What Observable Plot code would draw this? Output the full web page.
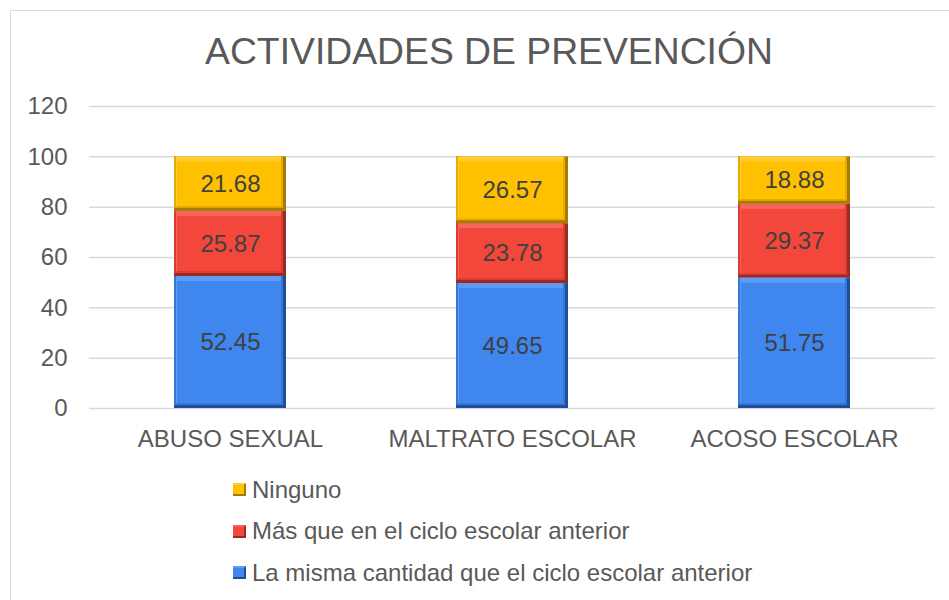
<!DOCTYPE html>
<html>
<head>
<meta charset="utf-8">
<script src="https://cdn.jsdelivr.net/npm/d3@7"></script>
<script src="https://cdn.jsdelivr.net/npm/@observablehq/plot@0.6"></script>
<style>
  html, body { margin: 0; padding: 0; background: #fff; overflow: hidden; }
  body { width: 949px; height: 600px; position: relative; font-family: "Liberation Sans", Arial, sans-serif; color: #595959; }
  #frame { position: absolute; left: 10px; top: 10px; width: 960px; height: 620px; border-left: 1.5px solid #d9d9d9; border-top: 1.5px solid #d9d9d9; box-sizing: border-box; }
  #title { position: absolute; left: 0; top: 33px; width: 949px; padding-left: 29px; box-sizing: border-box; text-align: center; font-size: 37.3px; line-height: 36.5px; color: #595959; white-space: nowrap; }
  #chart { position: absolute; left: 0; top: 90px; }
  #legend { position: absolute; left: 233px; top: 469px; }
  .row { display: flex; align-items: center; height: 41.5px; font-size: 24px; white-space: nowrap; }
  .sw { width: 13px; height: 13px; margin-right: 6px; box-sizing: border-box; }
</style>
</head>
<body>
<div id="frame"></div>
<div id="title">ACTIVIDADES DE PREVENCIÓN</div>
<div id="chart"></div>
<div id="legend"></div>
<script>
const categories = ["ABUSO SEXUAL", "MALTRATO ESCOLAR", "ACOSO ESCOLAR"];
const series = [
  "La misma cantidad que el ciclo escolar anterior",
  "Más que en el ciclo escolar anterior",
  "Ninguno"
];
const misma = [52.45, 49.65, 51.75];
const mas = [25.87, 23.78, 29.37];
const ninguno = [21.68, 26.57, 18.88];
const yTicks = [0, 20, 40, 60, 80, 100, 120];

const mainColors = ["#3f86ef", "#f2473a", "#ffc000"];
const lightColors = ["#5d9bf4", "#f5665a", "#ffcd33"];
const darkColors = ["#1d4f9c", "#9c2a22", "#a67c00"];
const edgeColors = ["#3576d6", "#d93d31", "#e6ad00"];

const valuesBySeries = [misma, mas, ninguno];
const data = [];
series.forEach((s, si) => {
  categories.forEach((c, ci) => {
    data.push({cat: c, series: s, si, value: valuesBySeries[si][ci]});
  });
});

const stackOpts = (extra) => Plot.stackY({x: "cat", y: "value", z: "series", order: series, ...extra});

const chart = Plot.plot({
  width: 949,
  height: 370,
  marginTop: 16,
  marginBottom: 52,
  marginLeft: 89,
  marginRight: 14,
  style: {fontFamily: "'Liberation Sans', Arial, sans-serif", fontSize: "24px", color: "#595959", background: "transparent"},
  x: {domain: categories, paddingInner: 0.603, paddingOuter: 0.3015, label: null},
  y: {domain: [0, 120], label: null},
  color: {type: "identity"},
  marks: [
    Plot.gridY(yTicks, {stroke: "#d9d9d9", strokeOpacity: 1, strokeWidth: 1.5}),
    Plot.axisY(yTicks, {tickSize: 0, tickPadding: 22, fill: "#595959", fontSize: 24, label: null}),
    Plot.axisX({tickSize: 0, tickPadding: 21, fill: "#595959", fontSize: 24, label: null}),
    // bevel layers
    Plot.barY(data, stackOpts({fill: d => darkColors[d.si]})),
    Plot.barY(data, stackOpts({fill: d => edgeColors[d.si], insetBottom: 3, insetRight: 3})),
    Plot.barY(data, stackOpts({fill: d => lightColors[d.si], insetBottom: 5, insetRight: 5, insetLeft: 2})),
    Plot.barY(data, stackOpts({fill: d => mainColors[d.si], insetTop: 5, insetBottom: 5, insetLeft: 3, insetRight: 5})),
    Plot.text(data, stackOpts({text: d => d.value.toFixed(2), fill: "#404040", fontSize: 24}))
  ]
});
document.getElementById("chart").appendChild(chart);

const legend = document.getElementById("legend");
[2, 1, 0].forEach(i => {
  const row = document.createElement("div");
  row.className = "row";
  const sw = document.createElement("div");
  sw.className = "sw";
  sw.style.background = mainColors[i];
  sw.style.borderRight = "2px solid " + darkColors[i];
  sw.style.borderBottom = "2px solid " + darkColors[i];
  sw.style.borderTop = "2px solid " + lightColors[i];
  const t = document.createElement("span");
  t.textContent = series[i];
  row.appendChild(sw);
  row.appendChild(t);
  legend.appendChild(row);
});
</script>
</body>
</html>
